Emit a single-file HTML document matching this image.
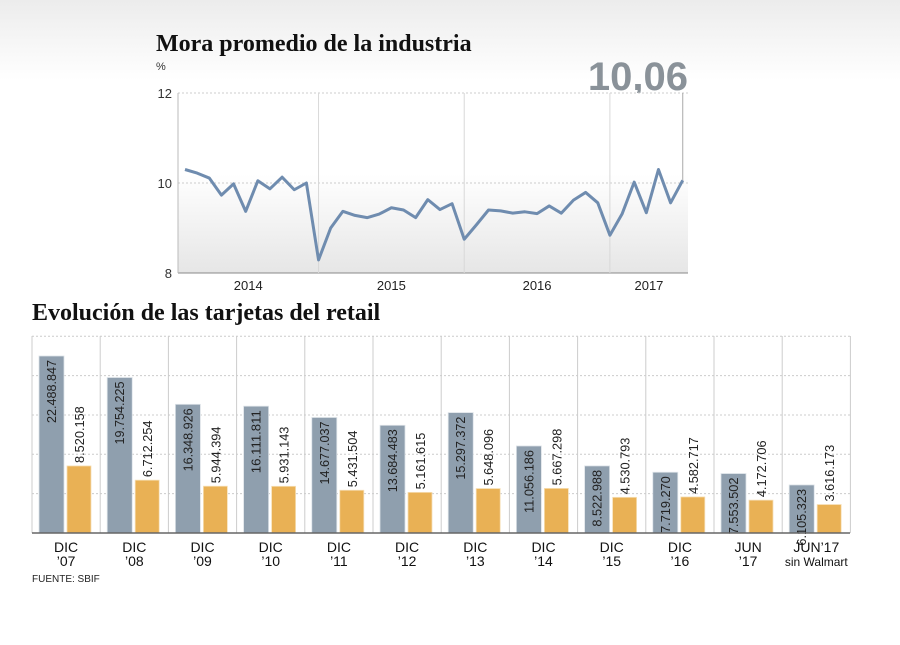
<!DOCTYPE html>
<html><head><meta charset="utf-8"><style>
body{margin:0;width:900px;height:640px;overflow:hidden;background:#fff;font-family:"Liberation Sans",sans-serif}
svg text{font-family:"Liberation Sans",sans-serif}
</style></head><body>
<svg id="s" width="900" height="640">
<defs>
<linearGradient id="topg" x1="0" y1="0" x2="0" y2="1"><stop offset="0" stop-color="#ececec"/><stop offset="1" stop-color="#fff"/></linearGradient>
<linearGradient id="plotg" x1="0" y1="0" x2="0" y2="1"><stop offset="0" stop-color="#fff"/><stop offset="0.45" stop-color="#fff"/><stop offset="1" stop-color="#e6e6e6"/></linearGradient>
</defs>
<rect x="0" y="0" width="900" height="80" fill="url(#topg)"/>
<text x="156" y="51" font-weight="bold" font-size="24" fill="#111" style="font-family:'Liberation Serif',serif">Mora promedio de la industria</text>
<text x="156" y="70" font-size="11" fill="#333">%</text>
<text x="688" y="90" text-anchor="end" font-size="40" font-weight="bold" fill="#8a9299">10,06</text>
<g id="line"></g>
<text x="32" y="320" font-weight="bold" font-size="24" fill="#111" style="font-family:'Liberation Serif',serif">Evolución de las tarjetas del retail</text>
<g id="bars"></g>
<text x="32" y="582" font-size="10" fill="#222">FUENTE: SBIF</text>
</svg>
<script>
const mora=[10.30,10.22,10.11,9.73,9.98,9.37,10.05,9.87,10.13,9.85,10.00,8.29,9.00,9.37,9.28,9.23,9.31,9.45,9.40,9.23,9.63,9.41,9.54,8.75,9.07,9.40,9.38,9.33,9.36,9.32,9.49,9.33,9.62,9.79,9.56,8.84,9.31,10.02,9.34,10.30,9.56,10.06];
const yTicks=[8,10,12];
const yearLabels=["2014","2015","2016","2017"];
const yearStartIdx=[-1,11,23,35];
const cats=[["DIC","’07"],["DIC","’08"],["DIC","’09"],["DIC","’10"],["DIC","’11"],["DIC","’12"],["DIC","’13"],["DIC","’14"],["DIC","’15"],["DIC","’16"],["JUN","’17"],["JUN’17","sin Walmart"]];
const totalCards=[22488847,19754225,16348926,16111811,14677037,13684483,15297372,11056186,8522988,7719270,7553502,6105323];
const activeCards=[8520158,6712254,5944394,5931143,5431504,5161615,5648096,5667298,4530793,4582717,4172706,3616173];
const NS="http://www.w3.org/2000/svg";
function mk(p,t,a){const e=document.createElementNS(NS,t);for(const k in a)e.setAttribute(k,a[k]);p.appendChild(e);return e;}
const fmt=v=>v.toString().replace(/\B(?=(\d{3})+(?!\d))/g,".");
const L=document.getElementById('line');
const px0=178,px1=688,py0=93,py1=273;
const lx=i=>185+12.14*i;
const ly=v=>py1-(v-8)/4*(py1-py0);
let r=mk(L,'rect',{x:px0,y:py0,width:px1-px0,height:py1-py0,fill:'url(#plotg)'});


yTicks.forEach(t=>{
 let g=mk(L,'line',{x1:px0,x2:px1,y1:ly(t),y2:ly(t),stroke:t==8?'#888':'#ccc','stroke-dasharray':t==8?'':'2,2'});
 
 
 let tx=mk(L,'text',{x:172,y:ly(t)+5,'text-anchor':'end','font-size':13,fill:'#333'});
 tx.textContent=t;
 
 
});
let ax=mk(L,'line',{x1:px0,x2:px0,y1:py0,y2:py1,stroke:'#bbb'});


yearStartIdx.forEach((s,k)=>{
 const xs=k==0?px0:lx(s);
 const xe=k<3?lx(yearStartIdx[k+1]):px1;
 if(k>0){let v=mk(L,'line',{x1:xs,x2:xs,y1:py0,y2:py1,stroke:'#d8d8d8'});
 
 }
 let tx=mk(L,'text',{x:(xs+xe)/2,y:290,'text-anchor':'middle','font-size':13,fill:'#222'});
 tx.textContent=yearLabels[k];
 
 
});
const last=mora.length-1;
let al=mk(L,'line',{x1:lx(last),x2:lx(last),y1:ly(mora[last]),y2:py0,stroke:'#aaa'});


let pl=mk(L,'polyline',{points:mora.map((v,i)=>lx(i)+','+ly(v)).join(' '),fill:'none',stroke:'#6f8caf','stroke-width':3,'stroke-linejoin':'round'});


const B=document.getElementById('bars');
const bx0=32,gw=68.2,by0=533,sc=177/22488847;
const by=v=>by0-v*sc;
[5e6,10e6,15e6,20e6,25e6].forEach(t=>{
 let g=mk(B,'line',{x1:bx0,x2:850,y1:by(t),y2:by(t),stroke:'#ccc','stroke-dasharray':'2,2'});
 
 
});
for(let i=0;i<=cats.length;i++){
 let v=mk(B,'line',{x1:bx0+gw*i,x2:bx0+gw*i,y1:336,y2:by0,stroke:'#ccc'});
 
 
}
cats.forEach((c,i)=>{
 const gx=bx0+gw*i;
 let b1=mk(B,'rect',{x:gx+7,y:by(totalCards[i]),width:25,height:totalCards[i]*sc,fill:'#8f9fae',stroke:'#dde3e8','stroke-width':0.8});
 
 
 let b2=mk(B,'rect',{x:gx+35,y:by(activeCards[i]),width:24,height:activeCards[i]*sc,fill:'#e9b155',stroke:'#f6dfb6','stroke-width':0.8});
 
 
 const s1=fmt(totalCards[i]);
 let t1=mk(B,'text',{transform:`translate(${gx+24},${by(totalCards[i])+4}) rotate(-90)`,'text-anchor':'end','font-size':13,fill:'#222',textLength:s1.length*6.3,lengthAdjust:'spacingAndGlyphs'});
 t1.textContent=s1;
 
 
 const s2=fmt(activeCards[i]);
 let t2=mk(B,'text',{transform:`translate(${gx+52},${by(activeCards[i])-3}) rotate(-90)`,'text-anchor':'start','font-size':13,fill:'#222',textLength:s2.length*6.3,lengthAdjust:'spacingAndGlyphs'});
 t2.textContent=s2;
 
 
 c.forEach((s,k)=>{
  let t=mk(B,'text',{x:gx+gw/2,y:552+k*14,'text-anchor':'middle','font-size':k==1&&i==11?12:14,fill:'#111'});
  t.textContent=s;
  
  
 });
});
let ba=mk(B,'line',{x1:bx0,x2:850,y1:by0,y2:by0,stroke:'#666','stroke-width':1.5});


</script>
</body></html>
